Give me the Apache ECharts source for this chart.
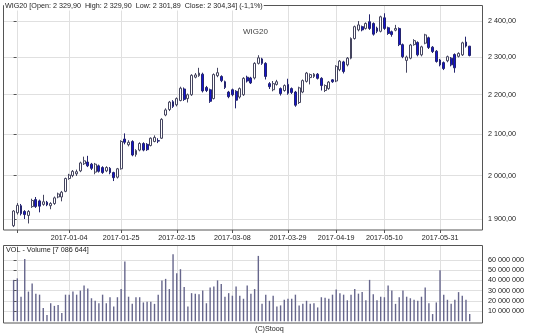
<!DOCTYPE html>
<html><head><meta charset="utf-8">
<script src="https://cdn.jsdelivr.net/npm/echarts@6/dist/echarts.min.js"></script>
<style>html,body{margin:0;padding:0;background:#fff}#c{width:536px;height:335px}</style>
</head><body><div id="c"></div>
<script>
const dates = [
'2016-12-13','2016-12-14','2016-12-15','2016-12-16','2016-12-19','2016-12-20','2016-12-21','2016-12-22','2016-12-23','2016-12-27','2016-12-28','2016-12-29','2016-12-30',
'2017-01-02','2017-01-03','2017-01-04','2017-01-05','2017-01-09','2017-01-10','2017-01-11','2017-01-12','2017-01-13','2017-01-16','2017-01-17','2017-01-18','2017-01-19','2017-01-20','2017-01-23','2017-01-24','2017-01-25','2017-01-26','2017-01-27','2017-01-30','2017-01-31',
'2017-02-01','2017-02-02','2017-02-03','2017-02-06','2017-02-07','2017-02-08','2017-02-09','2017-02-10','2017-02-13','2017-02-14','2017-02-15','2017-02-16','2017-02-17','2017-02-20','2017-02-21','2017-02-22','2017-02-23','2017-02-24','2017-02-27','2017-02-28',
'2017-03-01','2017-03-02','2017-03-03','2017-03-06','2017-03-07','2017-03-08','2017-03-09','2017-03-10','2017-03-13','2017-03-14','2017-03-15','2017-03-16','2017-03-17','2017-03-20','2017-03-21','2017-03-22','2017-03-23','2017-03-24','2017-03-27','2017-03-28','2017-03-29','2017-03-30','2017-03-31',
'2017-04-03','2017-04-04','2017-04-05','2017-04-06','2017-04-07','2017-04-10','2017-04-11','2017-04-12','2017-04-13','2017-04-18','2017-04-19','2017-04-20','2017-04-21','2017-04-24','2017-04-25','2017-04-26','2017-04-27','2017-04-28',
'2017-05-02','2017-05-04','2017-05-05','2017-05-08','2017-05-09','2017-05-10','2017-05-11','2017-05-12','2017-05-15','2017-05-16','2017-05-17','2017-05-18','2017-05-19','2017-05-22','2017-05-23','2017-05-24','2017-05-25','2017-05-26','2017-05-29','2017-05-30','2017-05-31',
'2017-06-01','2017-06-02','2017-06-05','2017-06-06','2017-06-07','2017-06-08','2017-06-09','2017-06-12'
];
const gridDates = ['2016-12-14','2017-01-04','2017-01-25','2017-02-15','2017-03-08','2017-03-29','2017-04-19','2017-05-10','2017-05-31'];
const labelDates = gridDates.slice(1);
const priceTicks = [1900, 2000, 2100, 2200, 2300, 2400];
const volumeTicks = [10000000, 20000000, 30000000, 40000000, 50000000, 60000000];

const open = [
1885,1914,1930,1917,1908,1928,1944,1941,1933,1938,
1930,1935,1950,1950,1963,1993,2000,2004,2011,2028,
2032,2027,2008,2023,2019,2011,2017,2007,1996,2016,
2088,2074,2082,2050,2061,2077,2075,2072,2082,2084,
2090,2148,2162,2182,2174,2185,2215,2190,2200,2246,
2250,2254,2219,2213,2190,2250,2248,2234,2207,2213,
2209,2194,2200,2246,2244,2244,2283,2295,2283,2229,
2213,2227,2216,2211,2227,2216,2207,2180,2207,2235,
2245,2248,2254,2243,2211,2216,2239,2236,2266,2287,
2279,2297,2351,2375,2384,2379,2398,2393,2380,2371,
2409,2381,2370,2374,2379,2334,2291,2297,2334,2340,
2306,2338,2353,2327,2316,2292,2285,2290,2297,2307,
2302,2306,2341,2329.90];
const close = [
1918,1931,1912,1910,1917,1942,1928,1929,1939,1932,
1935,1948,1957,1961,1993,2001,2010,2009,2030,2035,
2023,2017,2027,2010,2007,2019,2007,1995,2016,2082,
2080,2080,2049,2060,2077,2061,2062,2090,2092,2083,
2137,2161,2181,2170,2190,2217,2188,2200,2251,2252,
2257,2210,2211,2183,2253,2258,2237,2219,2195,2200,
2186,2216,2243,2236,2231,2283,2298,2283,2248,2221,
2229,2234,2203,2224,2204,2206,2173,2218,2237,2257,
2253,2254,2243,2224,2224,2233,2234,2275,2289,2261,
2297,2351,2384,2389,2375,2393,2379,2363,2371,2412,
2379,2365,2362,2379,2334,2301,2300,2333,2345,2306,
2328,2361,2326,2315,2288,2279,2269,2301,2279,2271,
2310,2339,2330,2304.34];
const high = [
1920,1936,1934,1920,1920,1946,1950,1944,1955,1941,
1938,1951,1960,1964,1995,2004,2013,2014,2033,2045,
2047,2030,2030,2026,2022,2022,2020,2009,2018,2085,
2102,2085,2085,2063,2080,2080,2078,2092,2097,2090,
2140,2165,2184,2186,2193,2221,2219,2203,2254,2257,
2271,2258,2223,2216,2256,2271,2251,2237,2210,2216,
2212,2219,2246,2250,2247,2286,2305,2298,2286,2233,
2236,2239,2219,2227,2242,2219,2210,2221,2240,2260,
2256,2257,2257,2246,2227,2236,2241,2278,2292,2290,
2300,2354,2387,2400,2387,2396,2419,2396,2384,2415,
2422,2384,2373,2389,2382,2337,2304,2336,2349,2343,
2331,2364,2356,2330,2319,2295,2288,2304,2300,2310,
2313,2342,2356,2329.90];
const low = [
1882,1910,1908,1900,1890,1925,1925,1915,1930,1929,
1922,1932,1947,1940,1961,1990,1996,1999,2008,2025,
2020,2013,2003,2007,2004,2008,2003,1987,1993,2014,
2075,2070,2046,2045,2058,2058,2059,2070,2080,2078,
2088,2145,2158,2166,2170,2183,2184,2180,2197,2243,
2247,2206,2207,2179,2188,2246,2233,2215,2191,2196,
2165,2190,2197,2232,2228,2240,2280,2279,2240,2215,
2209,2224,2198,2208,2200,2202,2169,2176,2204,2232,
2227,2244,2240,2211,2207,2213,2231,2233,2262,2256,
2275,2294,2348,2371,2371,2376,2375,2359,2366,2368,
2375,2361,2356,2371,2330,2297,2258,2294,2331,2302,
2302,2335,2322,2311,2285,2275,2265,2286,2275,2258,
2299,2303,2326,2301.89];
// volume in millions of units
const volumeM = [
40.5,42,24,61,29,37,27,26,13,6,
17.6,15,16,8,26,26,29,26,30,35,
32,22.5,20,17.6,26,17.6,23.5,14.5,23.5,31.5,
58.5,24,17,23.5,23.5,18.4,19,19,17,26,
40,41.5,31.5,65.7,47,51,33.5,14.5,27.5,27,
26.5,30,17.6,33,34,40,36.5,24,27.5,25,
34,25,22,35,27,31.5,64,17,26,20,
25,14.5,15.5,21,22,22,26,15.5,17,20,
17,17.6,13.5,23.5,23,22,26,31,27.5,26,
20.5,26,31.5,27,28.5,20.5,40.5,26.5,20.5,24,
23.5,35,30,17,23.5,30,24,22.5,21,20,
24,33,17.6,7,18.4,50,26,21,17,21,
28.5,25,21,7.086644];

function fmtNum(v, dec) {
  const s = Math.abs(v).toFixed(dec);
  const parts = s.split('.');
  const intS = parts[0].replace(/\B(?=(\d{3})+(?!\d))/g, ' ');
  return (v < 0 ? '-' : '') + (parts[1] ? intS + ',' + parts[1] : intS);
}

const n = dates.length;
const candleData = dates.map((d, i) => [i, open[i], close[i], low[i], high[i]]);
const volData = dates.map((d, i) => [i, volumeM[i] * 1e6]);
const gridIdx = gridDates.map(d => dates.indexOf(d));
const labelIdx = labelDates.map(d => dates.indexOf(d));
const last = n - 1;
const chg = (close[last] / close[last - 1] - 1) * 100;
const titleText = 'WIG20 [Open: ' + fmtNum(open[last], 2) + '  High: ' + fmtNum(high[last], 2) +
  '  Low: ' + fmtNum(low[last], 2) + '  Close: ' + fmtNum(close[last], 2) + '] (' + fmtNum(chg, 1) + '%)';
const volText = 'VOL - Volume [' + fmtNum(volumeM[last] * 1e6, 0) + ']';

const FONT = '"Liberation Sans", Arial, sans-serif';
const gridColor = '#e0e0e0';

const chart = echarts.init(document.getElementById('c'), null, {renderer: 'canvas', width: 536, height: 335});
chart.setOption({
  animation: false,
  backgroundColor: '#ffffff',
  textStyle: {fontFamily: FONT},
  grid: [
    {left: 3, right: 53, top: 5.5, bottom: 105},
    {left: 3, right: 53, top: 245.5, bottom: 13.8}
  ],
  xAxis: [
    {type: 'value', gridIndex: 0, min: -2.86, max: 126.59,
     axisLine: {show: false},
     axisTick: {show: true, customValues: gridIdx, length: 3, lineStyle: {color: '#555'}},
     axisLabel: {customValues: labelIdx, formatter: v => dates[Math.round(v)], fontSize: 7.2, color: '#222', margin: 4.5, fontFamily: FONT},
     splitLine: {show: true, lineStyle: {color: gridColor, width: 1}}},
    {type: 'value', gridIndex: 1, min: -2.86, max: 126.59,
     axisLine: {show: false},
     axisTick: {show: false, customValues: gridIdx},
     axisLabel: {show: false},
     splitLine: {show: true, lineStyle: {color: gridColor, width: 1}}}
  ],
  yAxis: [
    {type: 'log', gridIndex: 0, position: 'right', min: 1875.5, max: 2444.3,
     axisLine: {show: false},
     axisTick: {show: true, customValues: priceTicks, length: 3, lineStyle: {color: '#555'}},
     axisLabel: {customValues: priceTicks, formatter: v => fmtNum(v, 2), fontSize: 7.2, color: '#222', margin: 5, fontFamily: FONT},
     splitLine: {show: true, lineStyle: {color: gridColor, width: 1}}},
    {type: 'value', gridIndex: 1, position: 'right', min: 0, max: 74200000,
     axisLine: {show: false},
     axisTick: {show: true, customValues: volumeTicks, length: 3, lineStyle: {color: '#555'}},
     axisLabel: {customValues: volumeTicks, formatter: v => fmtNum(v, 0), fontSize: 7.2, color: '#222', margin: 5, fontFamily: FONT},
     splitLine: {show: true, lineStyle: {color: gridColor, width: 1}}}
  ],
  series: [
    {type: 'candlestick', xAxisIndex: 0, yAxisIndex: 0, data: candleData,
     encode: {x: 0, y: [1, 2, 3, 4]},
     barWidth: 2.4, clip: false,
     itemStyle: {color: '#ffffff', color0: '#1414d2', borderColor: '#45455f', borderColor0: '#24246e', borderWidth: 1}},
    {type: 'bar', xAxisIndex: 1, yAxisIndex: 1, data: volData, barWidth: 1.4,
     itemStyle: {color: '#66668c'}}
  ],
  graphic: [
    {type: 'rect', z: 100, silent: true, shape: {x: 3.5, y: 5.5, width: 479, height: 224.5}, style: {fill: null, stroke: '#555', lineWidth: 1}},
    {type: 'rect', z: 100, silent: true, shape: {x: 3.5, y: 245.5, width: 479, height: 77.5}, style: {fill: null, stroke: '#555', lineWidth: 1}},
    {type: 'text', z: 101, left: 4, top: 1.5, style: {text: titleText, font: '7.2px ' + FONT, fill: '#222', backgroundColor: '#fff', padding: [1, 1, 1, 1]}},
    {type: 'text', z: 101, left: 243, top: 28, style: {text: 'WIG20', font: '8px ' + FONT, fill: '#444'}},
    {type: 'text', z: 101, left: 6, top: 246.5, style: {text: volText, font: '7.2px ' + FONT, fill: '#222'}},
    {type: 'text', z: 101, left: 255, top: 326, style: {text: '(C)Stooq', font: '7.2px ' + FONT, fill: '#222'}}
  ]
});
</script>
</body></html>
